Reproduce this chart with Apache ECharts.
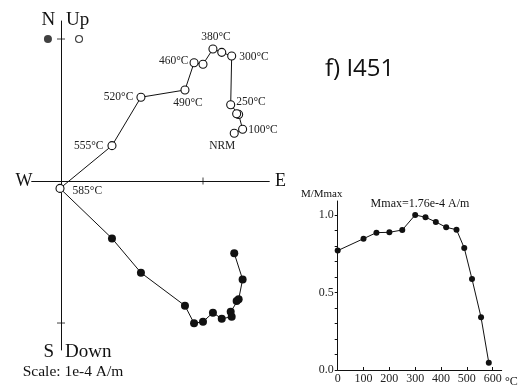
<!DOCTYPE html>
<html>
<head>
<meta charset="utf-8">
<script src="https://cdn.jsdelivr.net/npm/echarts@6/dist/echarts.min.js"></script>
<style>
html, body { margin: 0; padding: 0; background: #fff; }
#chart { width: 526px; height: 387px; }
</style>
</head>
<body>
<div id="chart"></div>
<script>
// demagnetisation steps (°C), NRM = 0
var temps = [0, 100, 150, 200, 250, 300, 340, 380, 420, 460, 490, 520, 555, 585];
var stepLabels = ['NRM', '100°C', '', '', '250°C', '300°C', '', '380°C', '', '460°C', '490°C', '520°C', '555°C', '585°C'];
// Zijderveld components, units of 1e-4 A/m
var east = [1.220, 1.279, 1.251, 1.237, 1.195, 1.202, 1.132, 1.070, 1.000, 0.937, 0.873, 0.563, 0.359, -0.007];
var north = [-0.509, -0.693, -0.833, -0.845, -0.920, -0.956, -0.970, -0.927, -0.991, -1.002, -0.878, -0.646, -0.404, -0.052];
var up = [0.336, 0.364, 0.469, 0.474, 0.537, 0.880, 0.906, 0.930, 0.822, 0.833, 0.641, 0.590, 0.249, -0.052];
// intensity decay M/Mmax
var mRatio = [0.770, 0.847, 0.886, 0.888, 0.903, 1.000, 0.985, 0.955, 0.920, 0.905, 0.787, 0.587, 0.340, 0.047];
// axis ticks
var zTicksE = [1];
var zTicksN = [1, -1];
var xTicks = [0, 100, 200, 300, 400, 500, 600];
var yTicks = [0, 0.1, 0.2, 0.3, 0.4, 0.5, 0.6, 0.7, 0.8, 0.9, 1.0];
var yLabels = [0, 0.5, 1.0];

var serif = '"Liberation Serif", "DejaVu Serif", serif';

// where each step label sits around its circle
var labelPlace = {
    'NRM': { position: 'bottom', distance: 2, offset: [-12, 0] },
    '100°C': { position: 'right', distance: 1, offset: [0, 1] },
    '250°C': { position: 'right', distance: 1, offset: [0, -3] },
    '300°C': { position: 'right', distance: 3, offset: [0, 1] },
    '380°C': { position: 'top', distance: 1, offset: [3, 0] },
    '460°C': { position: 'left', distance: 1, offset: [0, -2] },
    '490°C': { position: 'bottom', distance: 2, offset: [3, 0] },
    '520°C': { position: 'left', distance: 3, offset: [0, 0] },
    '555°C': { position: 'left', distance: 4, offset: [0, 0] },
    '585°C': { position: 'right', distance: 8, offset: [0, 3] }
};

var horiz = [], vert = [], decay = [];
for (var i = 0; i < temps.length; i++) {
    horiz.push([east[i], north[i]]);
    var item = { value: [east[i], up[i]] };
    var lab = stepLabels[i];
    if (lab) {
        var p = labelPlace[lab];
        item.label = {
            show: true,
            formatter: lab,
            position: p.position,
            distance: p.distance,
            offset: p.offset,
            fontFamily: serif,
            fontSize: 11.5,
            color: '#222'
        };
    }
    vert.push(item);
    decay.push([temps[i], mRatio[i]]);
}

var tickMarks = [];
zTicksE.forEach(function (v) { tickMarks.push({ value: [v, 0], symbolSize: [1, 7] }); });
zTicksN.forEach(function (v) { tickMarks.push({ value: [0, v], symbolSize: [8, 1] }); });

var myChart = echarts.init(document.getElementById('chart'));

function txt(x, y, s, size, align, font) {
    return {
        type: 'text', x: x, y: y,
        style: {
            text: s, fontFamily: font || serif, fontSize: size,
            fill: '#111', align: align || 'center', verticalAlign: 'middle'
        }
    };
}

var option = {
    animation: false,
    backgroundColor: '#fff',
    grid: [
        { left: 31.7, right: 256.7, top: 21, bottom: 37 },
        { left: 337.7, right: 24.3, top: 201, bottom: 17 }
    ],
    xAxis: [{
        gridIndex: 0, type: 'value', min: -0.2063, max: 1.4669,
        axisLine: { onZero: true, lineStyle: { color: '#111', width: 1 } },
        axisTick: { show: false }, axisLabel: { show: false }, splitLine: { show: false }
    }, {
        gridIndex: 1, type: 'value', min: 0, max: 635,
        axisLine: { onZero: false, lineStyle: { color: '#111', width: 1 } },
        axisTick: { customValues: xTicks, length: 3, inside: true, lineStyle: { color: '#111' } },
        axisLabel: {
            customValues: xTicks, margin: 3, fontFamily: serif, fontSize: 12, color: '#222'
        },
        splitLine: { show: false }
    }],
    yAxis: [{
        gridIndex: 0, type: 'value', min: -1.190, max: 1.1268,
        axisLine: { onZero: true, lineStyle: { color: '#111', width: 1 } },
        axisTick: { show: false }, axisLabel: { show: false }, splitLine: { show: false }
    }, {
        gridIndex: 1, type: 'value', min: 0, max: 1.09,
        axisLine: { show: true, onZero: false, lineStyle: { color: '#111', width: 1 } },
        axisTick: { show: true, customValues: yTicks, length: 3, lineStyle: { color: '#111' } },
        axisLabel: {
            customValues: yLabels, margin: 4, fontFamily: serif, fontSize: 12, color: '#222',
            formatter: function (v) { return v.toFixed(1); }
        },
        splitLine: { show: false }
    }],
    graphic: [
        txt(48.3, 19.7, 'N', 19),
        txt(66, 19.7, 'Up', 19, 'left'),
        txt(24, 181.3, 'W', 18),
        txt(280.5, 181, 'E', 18),
        txt(48.7, 352, 'S', 19),
        txt(65, 352, 'Down', 19, 'left'),
        txt(22.7, 371.5, 'Scale: 1e-4 A/m', 15.5, 'left'),
        txt(325, 69.5, 'f) I451', 24, 'left', '"Open Sans", "Noto Sans", sans-serif'),
        txt(342.5, 194, 'M/Mmax', 11, 'right'),
        txt(420, 204, 'Mmax=1.76e-4 A/m', 12),
        txt(505, 381.5, '°C', 12, 'left')
    ],
    series: [{
        // horizontal projection (E, N)
        type: 'line', xAxisIndex: 0, yAxisIndex: 0, data: horiz,
        symbol: 'circle', symbolSize: 8,
        lineStyle: { color: '#111', width: 1 },
        itemStyle: { color: '#111', borderWidth: 0 },
        z: 3
    }, {
        // vertical projection (E, Up)
        type: 'line', xAxisIndex: 0, yAxisIndex: 0, data: vert,
        symbol: 'circle', symbolSize: 8,
        lineStyle: { color: '#111', width: 1 },
        itemStyle: { color: '#fff', borderColor: '#111', borderWidth: 1.1 },
        z: 4
    }, {
        type: 'scatter', xAxisIndex: 0, yAxisIndex: 0, data: tickMarks,
        symbol: 'rect', itemStyle: { color: '#111' }, silent: true, z: 2
    }, {
        // key symbols next to N / Up
        type: 'scatter', xAxisIndex: 0, yAxisIndex: 0,
        data: [{ value: [-0.092, 1.0], itemStyle: { color: '#111' }, symbolSize: 8 },
               { value: [0.127, 1.0], itemStyle: { color: '#fff', borderColor: '#111', borderWidth: 1.1 }, symbolSize: 7 }],
        symbol: 'circle', silent: true, z: 4
    }, {
        type: 'line', xAxisIndex: 1, yAxisIndex: 1, data: decay,
        symbol: 'circle', symbolSize: 6,
        lineStyle: { color: '#111', width: 1 },
        itemStyle: { color: '#111' }
    }]
};
myChart.setOption(option);
</script>
</body>
</html>
